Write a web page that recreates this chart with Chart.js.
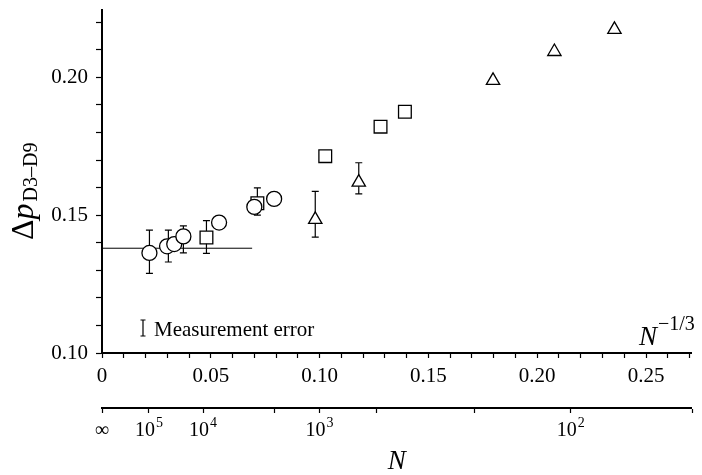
<!DOCTYPE html>
<html>
<head>
<meta charset="utf-8">
<script src="https://cdn.jsdelivr.net/npm/chart.js@4.4.0/dist/chart.umd.min.js"></script>
<style>
  html, body { margin: 0; padding: 0; background: #fff; }
</style>
</head>
<body>
<canvas id="chart" width="702" height="475"></canvas>
<script>
// N^-1/3 positions and pressure-drop values
let circleX = [0.0218, 0.0299, 0.0332, 0.0374, 0.0538, 0.0700, 0.0791];
let circleY = [0.1363, 0.1387, 0.1395, 0.1423, 0.1473, 0.1530, 0.1559];
let squareX = [0.0480, 0.0714, 0.1026, 0.1280, 0.1392];
let squareY = [0.1419, 0.1543, 0.1714, 0.1821, 0.1875];
let triangleX = [0.0980, 0.1180, 0.1797, 0.2079, 0.2355];
let triangleY = [0.1484, 0.1619, 0.1988, 0.2093, 0.2173];

// error bars (x, low, high)
let errX = [0.0218, 0.0305, 0.0374, 0.0480, 0.0714, 0.0980, 0.1180];
let errLow = [0.1289, 0.1330, 0.1363, 0.1361, 0.1500, 0.1420, 0.1577];
let errHigh = [0.1446, 0.1446, 0.1461, 0.1480, 0.1599, 0.1586, 0.1690];

// limit line for large N
let limitX = [0, 0.069];
let limitY = [0.138, 0.138];

// secondary axis: N values and their labels
let nTicks = [Infinity, 1e5, 1e4, 2000, 1000, 500, 200, 100, 50];
let nLabels = ['∞', '10^5', '10^4', '', '10^3', '', '', '10^2', ''];

const serif = 'Liberation Serif';

function every05(v) {
  return Math.abs(v * 20 - Math.round(v * 20)) < 1e-6;
}

const errorBars = {
  id: 'errorBars',
  beforeDatasetsDraw(chart) {
    const { ctx, scales: { x, y } } = chart;
    ctx.save();
    ctx.strokeStyle = '#000';
    ctx.lineWidth = 1.2;
    errX.forEach((v, i) => {
      const px = x.getPixelForValue(v);
      const lo = y.getPixelForValue(errLow[i]);
      const hi = y.getPixelForValue(errHigh[i]);
      ctx.beginPath();
      ctx.moveTo(px, lo); ctx.lineTo(px, hi);
      ctx.moveTo(px - 3.5, lo); ctx.lineTo(px + 3.5, lo);
      ctx.moveTo(px - 3.5, hi); ctx.lineTo(px + 3.5, hi);
      ctx.stroke();
    });
    ctx.restore();
  }
};

const labels = {
  id: 'labels',
  afterDraw(chart) {
    const { ctx, chartArea } = chart;
    ctx.save();
    ctx.fillStyle = '#000';
    ctx.textBaseline = 'alphabetic';

    // y title: Δp with subscript D3–D9, rotated
    ctx.save();
    ctx.translate(33, 240);
    ctx.rotate(-Math.PI / 2);
    ctx.font = '32px ' + serif;
    ctx.fillText('Δ', 0, 0);
    let w = ctx.measureText('Δ').width;
    ctx.font = 'italic 32px ' + serif;
    ctx.fillText('p', w, 0);
    w += ctx.measureText('p').width + 2;
    ctx.font = '20px ' + serif;
    ctx.fillText('D3–D9', w, 4);
    ctx.restore();

    // N^-1/3 label near right end of the primary x axis
    ctx.font = 'italic 27px ' + serif;
    const nx = chartArea.left + 537;
    ctx.fillText('N', nx, chartArea.bottom - 8);
    let nw = ctx.measureText('N').width;
    ctx.font = '20px ' + serif;
    ctx.fillText('−1/3', nx + nw + 1, chartArea.bottom - 23);

    // measurement error key
    const kx = chartArea.left + 41, ky = chartArea.bottom - 25;
    ctx.strokeStyle = '#000';
    ctx.lineWidth = 1.2;
    ctx.beginPath();
    ctx.moveTo(kx, ky - 8); ctx.lineTo(kx, ky + 8);
    ctx.moveTo(kx - 2.5, ky - 8); ctx.lineTo(kx + 2.5, ky - 8);
    ctx.moveTo(kx - 2.5, ky + 8); ctx.lineTo(kx + 2.5, ky + 8);
    ctx.stroke();
    ctx.font = '21px ' + serif;
    ctx.fillText('Measurement error', kx + 11, ky + 8);

    // secondary axis labels with superscripts
    const s = chart.scales.x2;
    s.ticks.forEach((t, i) => {
      const lab = nLabels[i];
      if (!lab) return;
      const px = s.getPixelForValue(t.value);
      const parts = lab.split('^');
      ctx.font = '20px ' + serif;
      const bw = ctx.measureText(parts[0]).width;
      let ew = 0;
      if (parts[1]) { ctx.font = '14px ' + serif; ew = ctx.measureText(parts[1]).width + 1; }
      const start = px - (bw + ew) / 2;
      ctx.font = '20px ' + serif;
      ctx.fillText(parts[0], start, s.top + 28);
      if (parts[1]) {
        ctx.font = '14px ' + serif;
        ctx.fillText(parts[1], start + bw + 1, s.top + 19);
      }
    });
    ctx.restore();
  }
};

const ctx = document.getElementById('chart').getContext('2d');

new Chart(ctx, {
  type: 'scatter',
  data: {
    datasets: [
      {
        type: 'line',
        data: limitX.map((v, i) => ({ x: v, y: limitY[i] })),
        borderColor: '#000',
        borderWidth: 1,
        pointRadius: 0,
        order: 10
      },
      {
        data: circleX.map((v, i) => ({ x: v, y: circleY[i] })),
        pointStyle: 'circle',
        pointRadius: 7.5,
        borderColor: '#000',
        backgroundColor: '#fff',
        borderWidth: 1.3,
        order: 1
      },
      {
        data: squareX.map((v, i) => ({ x: v, y: squareY[i] })),
        pointStyle: 'rect',
        pointRadius: 9,
        borderColor: '#000',
        backgroundColor: '#fff',
        borderWidth: 1.3,
        order: 1
      },
      {
        data: triangleX.map((v, i) => ({ x: v, y: triangleY[i] })),
        pointStyle: 'triangle',
        pointRadius: 7.7,
        borderColor: '#000',
        backgroundColor: '#fff',
        borderWidth: 1.3,
        order: 1
      }
    ]
  },
  options: {
    responsive: false,
    animation: false,
    layout: { padding: { top: 5, right: 4, left: 0, bottom: 0 } },
    plugins: {
      legend: { display: false },
      tooltip: { enabled: false }
    },
    scales: {
      x: {
        type: 'linear',
        position: 'bottom',
        min: 0,
        max: 0.271,
        afterFit: (s) => { s.height = 55; s.paddingLeft = 0; s.paddingRight = 0; },
        ticks: {
          stepSize: 0.01,
          includeBounds: false,
          autoSkip: false,
          maxRotation: 0,
          padding: 6,
          color: '#000',
          font: { family: serif, size: 21 },
          callback: (v) => every05(v) ? (v === 0 ? '0' : v.toFixed(2)) : ''
        },
        grid: { drawOnChartArea: false, color: '#000', tickLength: 5, tickWidth: 1.2 },
        border: { color: '#000', width: 2 }
      },
      x2: {
        type: 'linear',
        position: 'bottom',
        min: 0,
        max: 0.271,
        afterFit: (s) => { s.height = 67; s.paddingLeft = 0; s.paddingRight = 0; },
        afterBuildTicks: (s) => {
          s.ticks = nTicks.map(n => ({ value: n === Infinity ? 0 : Math.pow(n, -1 / 3) }));
        },
        ticks: {
          autoSkip: false,
          maxRotation: 0,
          callback: () => ''
        },
        title: {
          display: true,
          text: 'N',
          color: '#000',
          font: { family: serif, size: 27, style: 'italic', lineHeight: 1 },
          padding: { top: 0, bottom: 0 }
        },
        grid: { drawOnChartArea: false, color: '#000', tickLength: 5, tickWidth: 1.2 },
        border: { color: '#000', width: 2 }
      },
      y: {
        min: 0.10,
        max: 0.2243,
        afterFit: (s) => { s.width = 102; s.paddingTop = 0; s.paddingBottom = 0; },
        ticks: {
          stepSize: 0.01,
          includeBounds: false,
          autoSkip: false,
          padding: 8,
          color: '#000',
          font: { family: serif, size: 21 },
          callback: (v) => every05(v) ? v.toFixed(2) : ''
        },
        grid: { drawOnChartArea: false, color: '#000', tickLength: 6, tickWidth: 1.2 },
        border: { color: '#000', width: 2 }
      }
    }
  },
  plugins: [errorBars, labels]
});
</script>
</body>
</html>
